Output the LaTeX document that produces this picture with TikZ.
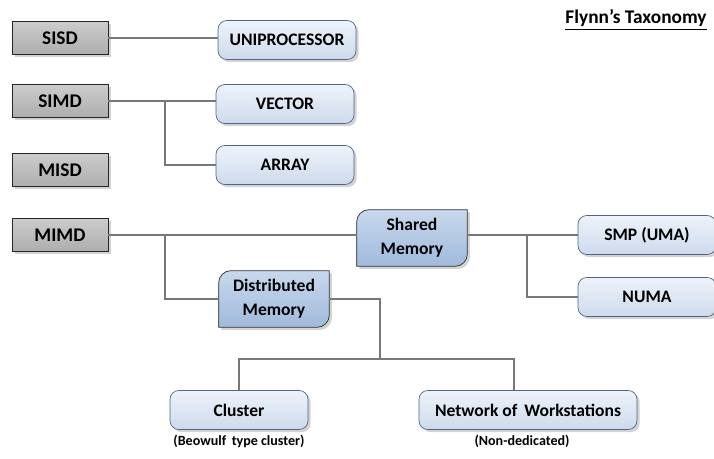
\documentclass[tikz,border=0pt]{standalone}
\usepackage{fontspec}
\setmainfont{Carlito}
\usetikzlibrary{shadows,backgrounds}
\definecolor{boxline}{RGB}{80,100,130}
\definecolor{wire}{RGB}{120,120,120}
\tikzset{
  flynn/.style={draw=black!85,top color=black!20,bottom color=black!32,
    minimum width=1.92cm,minimum height=0.66cm,inner sep=0pt,
    font=\fontsize{11}{13}\selectfont\bfseries,
    drop shadow={shadow xshift=1.5pt,shadow yshift=-1.5pt,opacity=.35}},
  arch/.style={draw=boxline,rounded corners=5pt,top color={rgb,255:red,238;green,243;blue,250},
    bottom color={rgb,255:red,205;green,218;blue,236},
    minimum width=2.76cm,minimum height=0.78cm,inner sep=0pt,
    font=\fontsize{10}{12}\selectfont\bfseries,
    drop shadow={shadow xshift=1.5pt,shadow yshift=-1.5pt,opacity=.35}},
  memory/.style={minimum width=2.2cm,minimum height=1.12cm,inner sep=0pt,align=center,
    font=\fontsize{10}{13.5}\selectfont\bfseries},
  memframe/.style={draw=black!80,top color={rgb,255:red,200;green,216;blue,237},
    bottom color={rgb,255:red,160;green,186;blue,220},
    drop shadow={shadow xshift=1.5pt,shadow yshift=-1.5pt,opacity=.35}},
  note/.style={font=\fontsize{8}{10}\selectfont\bfseries},
  wire/.style={draw=wire,line width=0.6pt}
}
\begin{document}
\begin{tikzpicture}[x=0.02cm,y=-0.02cm]
\useasboundingbox (0,0) rectangle (714,459);
% left column
\node[flynn] (sisd) at (60,38) {SISD};
\node[flynn] (simd) at (60,101) {SIMD};
\node[flynn] (misd) at (60,170) {MISD};
\node[flynn] (mimd) at (60,235) {MIMD};
\node[font=\fontsize{11}{13}\selectfont\bfseries] (title) at (636,20) {\underline{Flynn’s Taxonomy}};
%
\node[arch] (uni) at (287,40) {UNIPROCESSOR};
\node[arch] (vec) at (285,104) {VECTOR};
\node[arch] (arr) at (285,165) {ARRAY};
\node[arch] (smp) at (647,235) {SMP (UMA)};
\node[arch] (numa) at (647,297) {NUMA};
\node[arch] (clu) at (239,410) {Cluster};
\node[arch,minimum width=4.36cm] (now) at (528,410) {Network of\, Workstations};
\node[note] (beo) at (239,441) {(Beowulf\, type cluster)};
\node[note] (nded) at (522,441) {(Non-dedicated)};
% memory boxes, two round corners
\node[memory] (sm) at (412,238) {Shared\\Memory};
\node[memory] (dm) at (274,299) {Distributed\\Memory};
\begin{scope}[on background layer]
\foreach \n in {sm,dm}{
\path[memframe] (\n.west) {[rounded corners=7pt]-- (\n.north west) -- (\n.north)} -- (\n.north east)
  -- (\n.east) {[rounded corners=7pt]-- (\n.south east) -- (\n.south)} -- (\n.south west) -- cycle;
}
\end{scope}
% wires
\coordinate (jsimd) at (165,101);
\coordinate (jmimd) at (165,235);
\coordinate (jsm) at (527,235);
\coordinate (jdm) at (380,359);
\coordinate (jnow) at (514,359);
\draw[wire] (sisd) -- (sisd -| uni.west);
\draw[wire] (simd) -- (simd -| vec.west);
\draw[wire] (jsimd) |- (arr);
\draw[wire] (mimd) -- (mimd -| sm.west);
\draw[wire] (jmimd) |- (dm);
\draw[wire] (sm.east |- smp) -- (smp);
\draw[wire] (jsm) |- (numa);
\draw[wire] (dm) -| (jdm);
\draw[wire] (clu) |- (jnow) -- (jnow |- now.north);
\end{tikzpicture}
\end{document}
